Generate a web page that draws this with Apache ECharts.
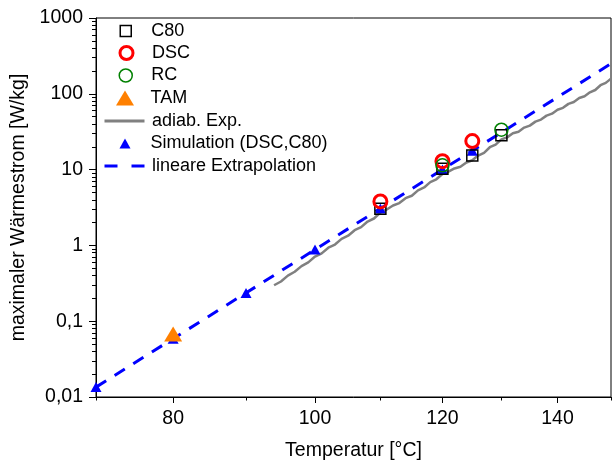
<!DOCTYPE html>
<html><head><meta charset="utf-8">
<script src="https://cdn.jsdelivr.net/npm/echarts@6/dist/echarts.min.js"></script>
<style>html,body{margin:0;padding:0;background:#fff}#c{width:616px;height:466px}</style>
</head><body><div id="c"></div>
<script>
// ---- data (temperatures in °C, heat flow in W/kg) ----
const xRange = [70, 150];
const xMajorTicks = [80, 100, 120, 140];
const xMinorTicks = [70, 90, 110, 130, 150];
const yTickValues = [0.01, 0.1, 1, 10, 100, 1000];
const yTickLabels = ['0,01', '0,1', '1', '10', '100', '1000'];
const yMinorMultipliers = [2, 3, 4, 5, 6, 7, 8, 9];

const c80T = [110, 120, 125, 130];
const c80Q = [3.05, 10.3, 15.4, 28.3];
const dscT = [110, 120, 125];
const dscQ = [3.8, 12.9, 23.8];
const rcT = [120, 130];
const rcQ = [11.4, 33.6];
const tamT = [80];
const tamQ = [0.068];
const simT = [70, 80, 90, 100, 110, 120, 125];
const simQ = [0.0135, 0.0588, 0.236, 0.881, 3.07, 10.0, 17.7];
const extT = [70, 150];
const extQ = [0.0135, 250];
const adiabT = [94, 95, 96, 97, 98, 99, 100, 101, 102, 103, 104, 105, 106, 107, 108, 109, 110,
  111, 112, 113, 114, 115, 116, 117, 118, 119, 120, 121, 122, 123, 124, 125, 126, 127, 128, 129, 130,
  131, 132, 133, 134, 135, 136, 137, 138, 139, 140, 141, 142, 143, 144, 145, 146, 147, 148, 149, 150];
const adiabQ = [0.298, 0.334, 0.399, 0.449, 0.533, 0.598, 0.713, 0.785, 0.933, 1.027, 1.219, 1.341, 1.588, 1.742, 2.064, 2.264, 2.718,
  2.976, 3.357, 3.614, 4.198, 4.519, 5.321, 5.808, 6.839, 7.447, 8.750, 9.376, 10.35, 10.92, 12.41, 13.28, 15.31, 16.63, 19.73, 21.38, 25.00,
  26.61, 30.13, 31.62, 35.81, 38.02, 42.95, 45.71, 51.52, 54.70, 61.66, 65.31, 73.62, 77.98, 87.90, 92.90, 104.5, 112.2, 129.8, 139.3, 158.5];

// ---- helpers: the x axis is a reciprocal-temperature (Arrhenius) scale ----
const U = T => 1000 / (T + 273.15);
const pts = (ts, qs) => ts.map((t, i) => [U(t), qs[i]]);
const yMinorTicks = [];
yTickValues.slice(0, -1).forEach(d => yMinorMultipliers.forEach(m => yMinorTicks.push(d * m)));

const FONT = '"Liberation Sans", Arial, sans-serif';
const chart = echarts.init(document.getElementById('c'), null, {renderer: 'canvas'});

const xBase = {
  type: 'value', inverse: true, min: U(xRange[1]), max: U(xRange[0]),
  position: 'bottom', splitLine: {show: false}, gridIndex: 0
};
const yBase = {
  type: 'log', logBase: 10, min: 0.01, max: 1000, position: 'left', splitLine: {show: false}, minorTick: {show: false}
};

// legend layout: icon centre x, text start x
const ICON_CX = 125, LINE_CX = 123, TEXT_X = 150.5;
const legendRows = [
  {name: 'C80', cy: 31, w: 11, h: 11, bw: 1.5},
  {name: 'DSC', cy: 53, w: 13, h: 13, bw: 3},
  {name: 'RC', cy: 75.5, w: 13, h: 13, bw: 1.5},
  {name: 'TAM', cy: 98, w: 18, h: 15, bw: 0},
  {name: 'adiab. Exp.', cy: 121, w: 40, h: 14, bw: 0, line: true},
  {name: 'Simulation (DSC,C80)', cy: 143.5, w: 11, h: 10, bw: 0},
  {name: 'lineare Extrapolation', cy: 166, w: 40, h: 14, bw: 0, line: true}
];

const option = {
  animation: false,
  backgroundColor: '#fff',
  grid: {left: 96, right: 5, top: 18, bottom: 69, show: true, borderColor: '#000', borderWidth: 1, backgroundColor: 'transparent'},
  legend: legendRows.map(r => {
    const left = (r.line ? LINE_CX : ICON_CX) - r.w / 2;
    const pad = Math.max(0, TEXT_X - (left + r.w + 5));
    const l = {
      data: [r.name], orient: 'vertical', left: left, top: r.cy - 9, padding: 0,
      itemWidth: r.w, itemHeight: r.h, selectedMode: false, symbolKeepAspect: false,
      textStyle: {fontSize: 18, color: '#000', fontFamily: FONT, padding: [0, 0, 0, pad]},
      itemStyle: {opacity: 1}
    };
    if (r.bw) l.itemStyle.borderWidth = r.bw;
    if (r.line) l.itemStyle = {opacity: 0, borderWidth: 0};
    if (r.name === 'lineare Extrapolation') l.lineStyle = {type: [13, 14], width: 3, color: '#0000ff'};
    if (r.name === 'adiab. Exp.') l.lineStyle = {width: 3, color: '#808080'};
    return l;
  }),
  xAxis: [
    Object.assign({}, xBase, {
      name: 'Temperatur [°C]', nameLocation: 'middle', nameGap: 44,
      nameTextStyle: {fontSize: 19.5, color: '#000', fontFamily: FONT},
      axisLine: {show: true, onZero: false, lineStyle: {color: '#000', width: 1}},
      axisTick: {show: true, length: 6, inside: false, lineStyle: {color: '#000', width: 1}, customValues: xMajorTicks.map(U)},
      axisLabel: {show: true, margin: 12, fontSize: 19.5, color: '#000', fontFamily: FONT,
        customValues: xMajorTicks.map(U), formatter: v => String(Math.round(1000 / v - 273.15))}
    }),
    Object.assign({}, xBase, {
      axisLine: {show: false},
      axisTick: {show: true, length: 3.5, inside: false, lineStyle: {color: '#000', width: 1}, customValues: xMinorTicks.map(U)},
      axisLabel: {show: false}
    })
  ],
  yAxis: [
    Object.assign({}, yBase, {
      name: 'maximaler Wärmestrom [W/kg]', nameLocation: 'middle', nameGap: 64,
      nameTextStyle: {fontSize: 19.5, color: '#000', fontFamily: FONT},
      axisLine: {show: true, onZero: false, lineStyle: {color: '#000', width: 1}},
      axisTick: {show: true, length: 7, inside: false, lineStyle: {color: '#000', width: 1}, customValues: yTickValues},
      axisLabel: {show: true, margin: 13, fontSize: 19.5, color: '#000', fontFamily: FONT,
        customValues: yTickValues,
        formatter: v => yTickLabels[Math.round(Math.log10(v)) + 2]}
    }),
    Object.assign({}, yBase, {
      axisLine: {show: false},
      axisTick: {show: true, length: 4, inside: false, lineStyle: {color: '#000', width: 1}, customValues: yMinorTicks},
      axisLabel: {show: false}
    })
  ],
  series: [
    {name: 'adiab. Exp.', type: 'line', data: pts(adiabT, adiabQ), symbol: 'none', smooth: false,
      lineStyle: {color: '#808080', width: 2.5}, itemStyle: {color: '#808080'}, z: 2},
    {name: 'lineare Extrapolation', type: 'line', data: pts(extT, extQ), symbol: 'none',
      lineStyle: {color: '#0000ff', width: 3, type: [12, 10]}, itemStyle: {color: '#0000ff'}, z: 3},
    {name: 'Simulation (DSC,C80)', type: 'scatter', data: pts(simT, simQ), symbol: 'triangle', symbolSize: [11, 10],
      itemStyle: {color: '#0000ff', opacity: 1}, z: 4},
    {name: 'C80', type: 'scatter', data: pts(c80T, c80Q), symbol: 'rect', symbolSize: 11,
      itemStyle: {color: 'rgba(255,255,255,0)', borderColor: '#000', borderWidth: 1.5, opacity: 1}, z: 5},
    {name: 'DSC', type: 'scatter', data: pts(dscT, dscQ), symbol: 'circle', symbolSize: 13,
      itemStyle: {color: 'rgba(255,255,255,0)', borderColor: '#ff0000', borderWidth: 3, opacity: 1}, z: 6},
    {name: 'RC', type: 'scatter', data: pts(rcT, rcQ), symbol: 'circle', symbolSize: 13,
      itemStyle: {color: 'rgba(255,255,255,0)', borderColor: '#008000', borderWidth: 1.5, opacity: 1}, z: 7},
    {name: 'TAM', type: 'scatter', data: pts(tamT, tamQ), symbol: 'triangle', symbolSize: [18, 15],
      itemStyle: {color: '#ff8000', opacity: 1}, z: 8}
  ]
};
chart.setOption(option);
</script>
</body></html>
